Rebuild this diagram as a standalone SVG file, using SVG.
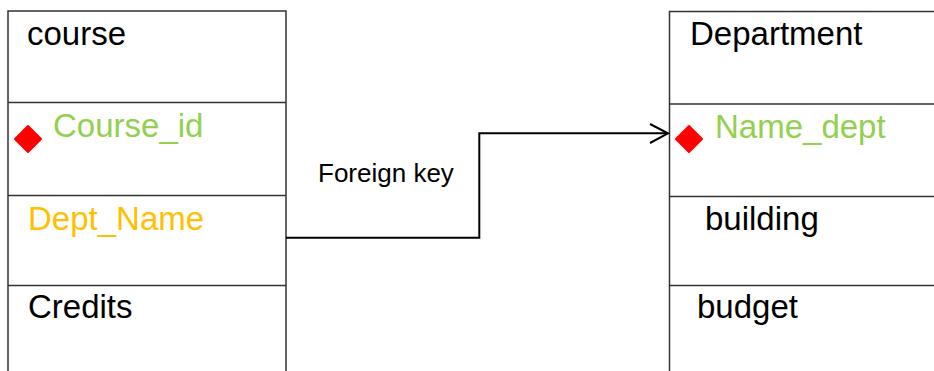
<svg xmlns="http://www.w3.org/2000/svg" width="934" height="371" viewBox="0 0 934 371">
<style>
.box{fill:#fff;stroke:#333;stroke-width:1.5}
.div{stroke:#333;stroke-width:1.5}
.t{font-family:"Liberation Sans",Arial,sans-serif;font-size:33px;fill:#000}
.pk{fill:#92D050}
.fk{fill:#FFC000}
.key{fill:#f00;stroke:#f00;stroke-width:2;stroke-linejoin:round}
.conn{fill:none;stroke:#000;stroke-width:2}
.lbl{font-family:"Liberation Sans",Arial,sans-serif;font-size:26px;fill:#000}
</style>
<rect width="934" height="371" fill="#fff"/>
<g id="course">
<path class="box" d="M8,380 V11 H286 V380"/>
<line class="div" x1="8" y1="102.5" x2="286" y2="102.5"/>
<line class="div" x1="8" y1="195.5" x2="286" y2="195.5"/>
<line class="div" x1="8" y1="285.5" x2="286" y2="285.5"/>
<text class="t" x="27" y="45">course</text>
<polygon class="key" points="28,126 41,139 28,152 15,139"/>
<text class="t pk" x="53" y="137">Course_id</text>
<text class="t fk" x="28" y="230">Dept_Name</text>
<text class="t" x="28" y="318">Credits</text>
</g>
<g id="department">
<path class="box" d="M669.5,380 V11.5 H940"/>
<line class="div" x1="669.5" y1="104" x2="934" y2="104"/>
<line class="div" x1="669.5" y1="196.5" x2="934" y2="196.5"/>
<line class="div" x1="669.5" y1="285.5" x2="934" y2="285.5"/>
<text class="t" x="690" y="45">Department</text>
<polygon class="key" points="689,126 702,139 689,152 676,139"/>
<text class="t pk" x="715" y="138">Name_dept</text>
<text class="t" x="705" y="230">building</text>
<text class="t" x="697" y="318">budget</text>
</g>
<g id="connectors">
<polyline class="conn" points="286,237.7 479.3,237.7 479.3,133.3 668,133.3"/>
<polyline class="conn" points="650,124 668,133.3 650,143"/>
<text class="lbl" x="318" y="182">Foreign key</text>
</g>
</svg>
